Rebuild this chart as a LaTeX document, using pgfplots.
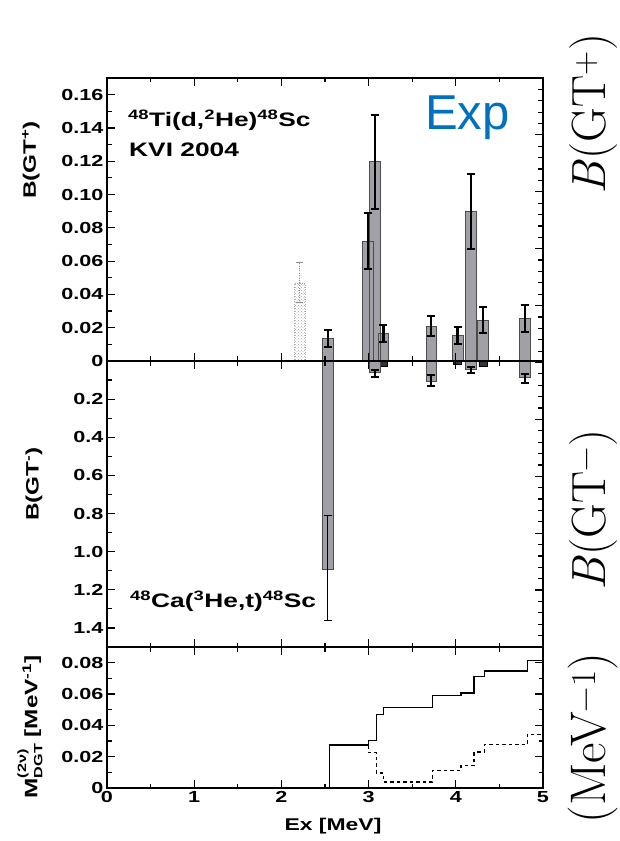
\documentclass[border=0pt]{standalone}
\usepackage{fontspec}
\usepackage{pgfplots}
\pgfplotsset{compat=1.18}
\usetikzlibrary{patterns}

% bold, slightly widened sans for all labels of the plot
\newfontfamily\lab[FakeStretch=1.35]{Liberation Sans}
\newfontfamily\plainsans{Liberation Sans}
\newcommand{\tl}{\lab\bfseries\fontsize{16}{16}\selectfont}
\newcommand{\al}{\lab\bfseries\fontsize{19.5}{19.5}\selectfont}

\definecolor{barfill}{RGB}{160,160,166}
\definecolor{expblue}{RGB}{0,112,192}

% B(GT+) from 48Ti(d,2He): x, value, +err, -err
\pgfplotstableread{
x     y       ep      em
2.99  0.072   0.017   0.017
3.07  0.120   0.028   0.0285
3.17  0.0166  0.005   0.005
2.53  0.0136  0.005   0.005
3.72  0.021   0.006   0.006
4.02  0.0154  0.005   0.005
4.17  0.090   0.0225  0.0225
4.31  0.0246  0.008   0.008
4.79  0.0256  0.008   0.008
}\gtplus

% B(GT-) from 48Ca(3He,t): the strong state
\pgfplotstableread{
x     y       ep      em
2.53  1.09    0.27    0.28
}\gtminusbig

% B(GT-): the other resolved states
\pgfplotstableread{
x     y       ep      em
3.07  0.061   0.021   0.014
3.72  0.105   0.025   0.032
4.17  0.044   0.017   0.014
4.79  0.086   0.031   0.018
}\gtminus

% weak B(GT-) states
\pgfplotstableread{
x     y
3.17  0.028
4.02  0.018
4.31  0.028
}\gtminussmall

\pgfplotsset{
  panel/.style={
    scale only axis, width=436pt, anchor=south west,
    xmin=0, xmax=5,
    xtick={0,1,2,3,4,5}, minor xtick={0.5,1.5,2.5,3.5,4.5},
    tick align=inside, xtick pos=both,
    scaled y ticks=false, scaled x ticks=false,
    axis on top,
    axis line style={line width=1.2pt},
    every tick/.style={black, line width=1.2pt},
    major tick length=8pt, minor tick length=4.5pt,
    tick label style={font=\tl},
    /pgf/number format/assume math mode=true,
    clip=false,
  },
  gtbar/.style={ybar, bar shift=0pt, bar width=0.12,
    fill=barfill, draw=black!70, line width=0.5pt},
}

\begin{document}
\begin{tikzpicture}
\useasboundingbox (0,0) rectangle (619pt,841pt);

% ---------- upper panel: B(GT+) ----------
\begin{axis}[panel, at={(107pt,480pt)}, height=283pt,
  ymin=0, ymax=0.17,
  ytick={0,0.02,0.04,0.06,0.08,0.10,0.12,0.14,0.16},
  yticklabels={0,0.02,0.04,0.06,0.08,0.10,0.12,0.14,0.16},
  minor y tick num=1, ytick pos=left,
  xticklabels={}]
\addplot[ybar, bar shift=0pt, bar width=0.12, draw=black!35, dotted,
  pattern=crosshatch dots, pattern color=black!35,
  error bars/.cd, y dir=both, y explicit,
  error bar style={black!45, dotted, line width=0.9pt},
  error mark options={rotate=90, black!45, line width=0.9pt, mark size=3.5pt}]
  coordinates {(2.21,0.047) +- (0,0.012)};
\addplot[gtbar,
  error bars/.cd, y dir=both, y explicit,
  error bar style={black, line width=2.2pt, solid},
  error mark options={rotate=90, black, line width=2pt, mark size=4pt, solid}]
  table[x=x, y=y, y error plus=ep, y error minus=em]{\gtplus};
\end{axis}

% ---------- middle panel: B(GT-) ----------
\begin{axis}[panel, at={(107pt,194pt)}, height=286pt,
  ymin=0, ymax=1.5, y dir=reverse,
  ytick={0,0.2,0.4,0.6,0.8,1.0,1.2,1.4},
  yticklabels={,0.2,0.4,0.6,0.8,1.0,1.2,1.4},
  minor y tick num=1, ytick pos=left,
  xticklabels={}]
\addplot[ybar, bar shift=0pt, bar width=0.09, fill=black!80, draw=black]
  table[x=x, y=y]{\gtminussmall};
\addplot[gtbar,
  error bars/.cd, y dir=both, y explicit,
  error bar style={black, line width=1.1pt, solid},
  error mark options={rotate=90, black, line width=1.3pt, mark size=4pt, solid}]
  table[x=x, y=y, y error plus=ep, y error minus=em]{\gtminusbig};
\addplot[gtbar,
  error bars/.cd, y dir=both, y explicit,
  error bar style={black, line width=2pt, solid},
  error mark options={rotate=90, black, line width=2pt, mark size=4pt, solid}]
  table[x=x, y=y, y error plus=ep, y error minus=em]{\gtminus};
\end{axis}

% ---------- lower panel: running sum of M_DGT ----------
\begin{axis}[panel, at={(107pt,53pt)}, height=141pt,
  ymin=0, ymax=0.09,
  ytick={0,0.02,0.04,0.06,0.08},
  yticklabels={0,0.02,0.04,0.06,0.08},
  minor y tick num=1, ytick pos=both,
  xticklabels={0,1,2,3,4,5}]
\addplot[const plot, black, line width=1.4pt] coordinates {
  (2.55,0) (2.55,0.0274) (3.00,0.0305) (3.09,0.047) (3.17,0.0512)
  (3.73,0.059) (4.06,0.0606) (4.21,0.0712) (4.33,0.0747) (4.82,0.0813)
  (5.00,0.0813)};
\addplot[const plot, black, line width=1.4pt, dash pattern=on 3.5pt off 3pt] coordinates {
  (3.00,0.0274) (3.00,0.0227) (3.09,0.0095) (3.17,0.0038) (3.73,0.011)
  (4.06,0.0143) (4.21,0.023) (4.33,0.0276) (4.82,0.0343) (5.00,0.0343)};
\end{axis}

% ---------- uniform ruler on the right edge of the two upper panels ----------
\begin{axis}[at={(107pt,194pt)}, anchor=south west, scale only axis,
  width=436pt, height=569pt, xmin=0, xmax=1, ymin=0, ymax=10,
  hide x axis, axis y line*=right,
  ytick={0,1,2,3,4,5,6,7,8,9,10}, minor y tick num=4, yticklabels={},
  tick align=inside, major tick length=8pt, minor tick length=5pt,
  every tick/.style={black, line width=1.2pt},
  axis line style={line width=1.2pt}]
\addplot[draw=none] coordinates {(0,0)};
\end{axis}

% ---------- texts ----------
\node[anchor=base west, inner sep=0] at (128pt,714pt)
  {\al\textsuperscript{48}Ti(d,\textsuperscript{2}He)\textsuperscript{48}Sc};
\node[anchor=base west, inner sep=0] at (129pt,684pt) {\al KVI 2004};
\node[anchor=base west, inner sep=0] at (130pt,233pt)
  {\al\textsuperscript{48}Ca(\textsuperscript{3}He,t)\textsuperscript{48}Sc};
\node[anchor=base west, inner sep=0, text=expblue] at (425pt,711pt)
  {\plainsans\fontsize{49}{49}\selectfont Exp};

\node[rotate=90, inner sep=0] at (31pt,681pt)
  {\lab\bfseries\fontsize{18}{18}\selectfont B(GT\textsuperscript{+})};
\node[rotate=90, inner sep=0] at (34pt,357pt)
  {\lab\bfseries\fontsize{18}{18}\selectfont B(GT\textsuperscript{-})};
\node[rotate=90, inner sep=0] at (30pt,114pt)
  {\lab\bfseries\fontsize{18}{18}\selectfont M\makebox[0pt][l]{\raisebox{0.62em}{\fontsize{12}{12}\selectfont(2ν)}}\raisebox{-0.28em}{\fontsize{12}{12}\selectfont DGT} [MeV\textsuperscript{-1}]};
\node[anchor=base, inner sep=0] at (333pt,10pt)
  {\lab\bfseries\fontsize{17}{17}\selectfont Ex [MeV]};

% large serif labels at the right edge
\node[rotate=90, anchor=base, inner sep=0] at (605pt,727pt)
  {\rmfamily\fontsize{48}{48}\selectfont\textit{B}(GT\textsuperscript{+})};
\node[rotate=90, anchor=base, inner sep=0] at (605pt,331pt)
  {\rmfamily\fontsize{48}{48}\selectfont\textit{B}(GT\textsuperscript{−})};
\node[rotate=90, anchor=base, inner sep=0] at (605pt,103pt)
  {\rmfamily\fontsize{50}{50}\selectfont(MeV\textsuperscript{−1})};
\end{tikzpicture}
\end{document}
